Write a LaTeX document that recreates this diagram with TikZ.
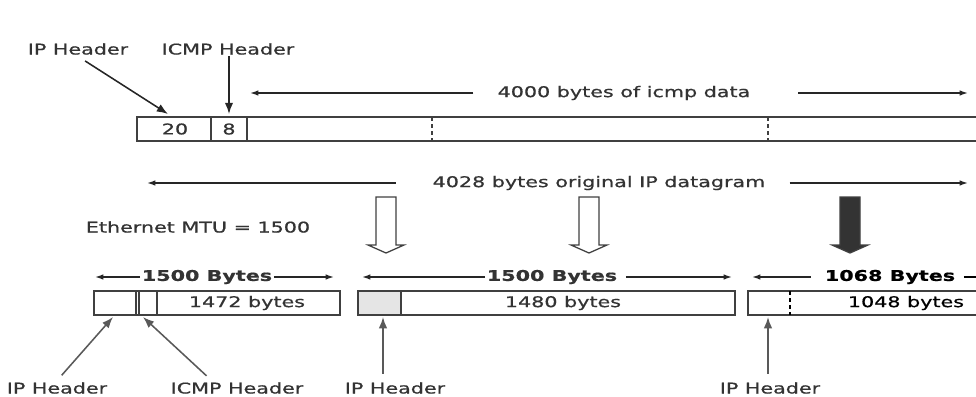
\documentclass[tikz,border=0pt]{standalone}
\usepackage{fontspec}
\setmainfont{DejaVu Sans}[FakeStretch=1.4,FakeBold=0.7]
\usepackage{tikz}
\usetikzlibrary{positioning,arrows.meta}

\begin{document}
\begin{tikzpicture}[x=0.025cm,y=-0.025cm,
		every node/.style={font=\fontsize{10.5}{12}\selectfont,text=black!80,inner sep=1pt},
		bold/.style={font=\fontsize{10.5}{12}\selectfont\bfseries},
		ptr/.style={-{Latex[length=8pt,width=6pt]},line width=1.1pt,black!85},
		gptr/.style={-{Latex[length=8pt,width=6pt]},line width=1.1pt,black!65},
		span/.style={-{Latex[length=6pt,width=4pt]},line width=1pt,black!85},
		frame/.style={line width=0.9pt,black!75},
		sep/.style={line width=0.9pt,black!75,densely dashed}]
		
		\useasboundingbox (0,0) rectangle (976,396);
		
		% original datagram
		\draw[frame] (976,117) -- (137,117) -- (137,141) -- (976,141);
		\foreach \x in {211,247} \draw[frame] (\x,117) -- (\x,141);
		\foreach \x in {432,768} \draw[sep] (\x,117) -- (\x,141);
		\node (ipval) at (175,129) {20};
		\node (icmpval) at (229,129) {8};
		
		\node (iphdrA) at (78,49) {IP Header};
		\node (icmphdrA) at (228,49) {ICMP Header};
		\coordinate (ipA) at (168,114);
		\coordinate (icmpA) at (229,114);
		\draw[ptr,shorten <=6pt] (iphdrA.south) -- (ipA);
		\draw[ptr] (icmphdrA.south -| icmpA) -- (icmpA);
		
		% lengths
		\node (icmpdata) at (624,93) {4000 bytes of icmp data};
		\coordinate (icmpdataL) at (250,93);
		\coordinate (icmpdataR) at (968,93);
		\draw[span,shorten <=16pt] (icmpdata) -- (icmpdataL);
		\draw[span,shorten <=33pt] (icmpdata) -- (icmpdataR);
		
		\node (ipdgram) at (599,183) {4028 bytes original IP datagram};
		\coordinate (ipdgramL) at (147,183);
		\coordinate (ipdgramR) at (968,183);
		\draw[span,shorten <=25pt] (ipdgram) -- (ipdgramL);
		\draw[span,shorten <=16pt] (ipdgram) -- (ipdgramR);
		
		\node (mtu) at (198,227) {Ethernet MTU = 1500};
		
		% fragmentation arrows
		\foreach \x/\col in {386/white, 589/white, 850/black!80}
		\draw[frame,fill=\col] (\x-10,197) -- (\x+10,197) -- (\x+10,245) -- (\x+18,245)
		-- (\x,253) -- (\x-18,245) -- (\x-10,245) -- cycle;
		
		% fragments
		\node[bold] (fragA) at (207,277) {1500 Bytes};
		\node[bold] (fragB) at (552,277) {1500 Bytes};
		\node[bold,text=black] (fragC) at (890,277) {1068 Bytes};
		\coordinate (fragAL) at (95,277);
		\coordinate (fragAR) at (334,277);
		\coordinate (fragBL) at (362,277);
		\coordinate (fragBR) at (732,277);
		\coordinate (fragCL) at (752,277);
		\coordinate (fragCR) at (976,277);
		\draw[span] (fragA) -- (fragAL);
		\draw[span] (fragA) -- (fragAR);
		\draw[span] (fragB) -- (fragBL);
		\draw[span,shorten <=5pt] (fragB) -- (fragBR);
		\draw[span,shorten <=9pt] (fragC) -- (fragCL);
		\draw[line width=1pt,shorten <=5pt] (fragC) -- (fragCR);
		
		\draw[frame] (94,291) rectangle (340,315);
		\foreach \x in {136,139,157} \draw[frame] (\x,291) -- (\x,315);
		\draw[frame,fill=gray!20] (358,291) rectangle (401,315);
		\draw[frame] (401,291) rectangle (735,315);
		\draw[frame] (976,291) -- (748,291) -- (748,315) -- (976,315);
		\draw[line width=1.2pt,densely dashed] (790,291) -- (790,315);
		
		\node (dataA) at (247,303) {1472 bytes};
		\node (dataB) at (563,303) {1480 bytes};
		\node[text=black] (dataC) at (906,303) {1048 bytes};
		
		\node (iphdrB) at (57,388) {IP Header};
		\node (icmphdrB) at (237,388) {ICMP Header};
		\node (iphdrC) at (395,388) {IP Header};
		\node (iphdrD) at (770,388) {IP Header};
		\coordinate (ipB) at (113,317);
		\coordinate (icmpB) at (143,317);
		\coordinate (ipC) at (383,317);
		\coordinate (ipD) at (768,317);
		\draw[gptr,shorten <=5pt] (iphdrB.north) -- (ipB);
		\draw[gptr,shorten <=5pt] ([xshift=-18pt]icmphdrB.north) -- (icmpB);
		\draw[gptr,shorten <=5pt] (iphdrC.north -| ipC) -- (ipC);
		\draw[gptr,shorten <=5pt] (iphdrD.north -| ipD) -- (ipD);
		
	\end{tikzpicture}
\end{document}
